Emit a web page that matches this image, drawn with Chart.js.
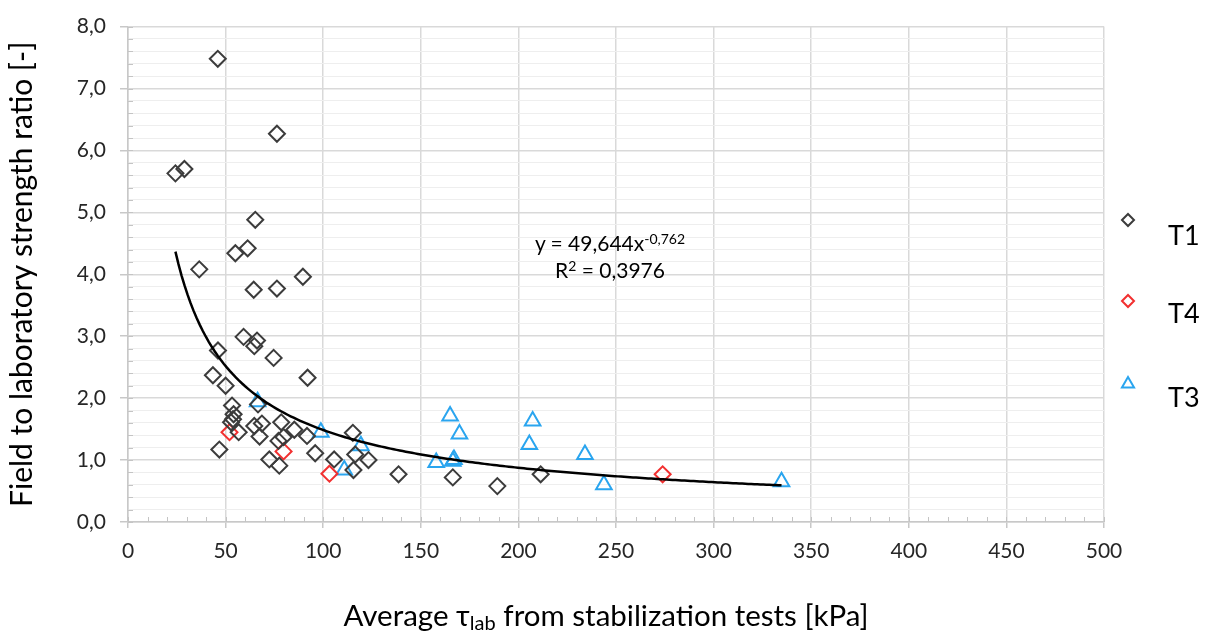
<!DOCTYPE html>
<html>
<head>
<meta charset="utf-8">
<script src="https://cdn.jsdelivr.net/npm/chart.js@4.4.1/dist/chart.umd.min.js"></script>
<style>
  html, body { margin: 0; padding: 0; background: #fff; }
  #wrap { position: relative; width: 1208px; height: 633px; }
  canvas { position: absolute; left: 0; top: 0; }
  .ovl { position: absolute; font-family: Lato, "Open Sans", sans-serif; color: #000; white-space: nowrap; }
  #eq { left: 510px; width: 200px; top: 229px; text-align: center; font-size: 21px; line-height: 27px; }
  #eq sup { font-size: 14px; vertical-align: 7px; line-height: 0; }
  #xtitle { left: 306px; width: 600px; top: 597px; text-align: center; font-size: 29.5px; line-height: 36px; }
  #xtitle sub { font-size: 20px; vertical-align: -4px; line-height: 0; }
</style>
</head>
<body>
<div id="wrap">
  <canvas id="c" width="1208" height="633"></canvas>
  <div class="ovl" id="eq">y = 49,644x<sup>-0,762</sup><br>R<sup>2</sup> = 0,3976</div>
  <div class="ovl" id="xtitle">Average τ<sub>lab</sub> from stabilization tests [kPa]</div>
</div>
<script>
// ---- Data ----
const seriesNames = ['T1', 'T4', 'T3'];

const t1X = [46.0, 76.3, 24.3, 28.9, 65.2, 55.0, 61.3, 36.5, 89.6, 64.4, 76.3, 59.2, 66.1, 64.7, 46.1, 74.6,
             43.5, 92.0, 50.0, 66.6, 53.3, 54.1, 53.8, 52.8, 64.7, 68.6, 78.5, 85.2, 56.7, 67.4, 77.1, 79.7,
             91.7, 46.8, 95.9, 72.4, 77.5, 105.6, 115.2, 116.4, 115.5, 123.2, 138.6, 166.4, 189.2, 211.4];
const t1Y = [7.48, 6.27, 5.63, 5.70, 4.88, 4.34, 4.42, 4.08, 3.96, 3.75, 3.77, 2.99, 2.93, 2.84, 2.77, 2.65,
             2.37, 2.33, 2.20, 1.90, 1.88, 1.74, 1.66, 1.61, 1.55, 1.59, 1.61, 1.49, 1.45, 1.38, 1.31, 1.37,
             1.39, 1.17, 1.11, 1.01, 0.91, 1.01, 1.44, 1.09, 0.84, 1.00, 0.77, 0.72, 0.58, 0.77];

const t4X = [52.0, 79.7, 103.2, 273.9];
const t4Y = [1.45, 1.14, 0.78, 0.77];

const t3X = [66.4, 98.8, 119.3, 110.8, 165.0, 169.8, 157.9, 166.4, 167.0, 207.3, 205.6, 234.1, 243.8, 334.8];
const t3Y = [1.94, 1.45, 1.23, 0.84, 1.71, 1.42, 0.96, 0.98, 1.01, 1.63, 1.25, 1.09, 0.60, 0.65];

// Power trendline shown on the chart: y = 49,644 x^-0,762
const trendA = 49.644;
const trendB = -0.762;

const xTicks = [0, 50, 100, 150, 200, 250, 300, 350, 400, 450, 500];
const yTicks = [0, 1, 2, 3, 4, 5, 6, 7, 8];

// ---- Build datasets ----
const toPts = (xs, ys) => xs.map((x, i) => ({ x, y: ys[i] }));
const allX = t1X.concat(t4X, t3X);
const xMin = Math.min(...allX), xMax = Math.max(...allX);
const trendPts = [];
for (let i = 0; i <= 200; i++) {
  const x = xMin + (xMax - xMin) * i / 200;
  trendPts.push({ x, y: trendA * Math.pow(x, trendB) });
}

const colT1 = '#3c3c3c', colT4 = '#f23030', colT3 = '#2aa5ef';
const FONT = 'Lato, "Open Sans", sans-serif';

const minorTicks = {
  id: 'minorTicks',
  beforeDatasetsDraw(chart) {
    const { ctx, chartArea: a, scales: { x, y } } = chart;
    ctx.save();
    ctx.strokeStyle = '#c4c4c4';
    ctx.lineWidth = 1;
    ctx.beginPath();
    for (let v = xTicks[0]; v <= xTicks[xTicks.length - 1] + 1e-9; v += 10) {
      const px = Math.round(x.getPixelForValue(v)) + 0.5;
      ctx.moveTo(px, a.bottom);
      ctx.lineTo(px, a.bottom - 5);
    }
    for (let k = 0; k <= 40; k++) {
      const v = k * 0.2;
      const py = Math.round(y.getPixelForValue(v)) + 0.5;
      ctx.moveTo(a.left, py);
      ctx.lineTo(a.left + 5, py);
    }
    ctx.stroke();
    ctx.restore();
  }
};

const customLegend = {
  id: 'customLegend',
  afterDraw(chart) {
    const { ctx } = chart;
    const items = [
      { ds: 0, mx: 1128, my: 220, tx: 1168, ty: 236 },
      { ds: 1, mx: 1128, my: 301, tx: 1168, ty: 314 },
      { ds: 2, mx: 1128, my: 384, tx: 1168, ty: 398 }
    ];
    ctx.save();
    items.forEach(it => {
      const d = chart.data.datasets[it.ds];
      ctx.strokeStyle = d.borderColor;
      ctx.fillStyle = 'rgba(0,0,0,0)';
      ctx.lineWidth = 2;
      Chart.helpers.drawPoint(ctx, { pointStyle: d.pointStyle, radius: d.pointStyle === 'triangle' ? 7 : 6, borderWidth: 2 }, it.mx, it.my);
      ctx.fillStyle = '#000';
      ctx.font = '27px ' + FONT;
      ctx.textAlign = 'left';
      ctx.textBaseline = 'middle';
      ctx.fillText(d.label, it.tx, it.ty);
    });
    ctx.restore();
  }
};

new Chart(document.getElementById('c'), {
  type: 'scatter',
  data: {
    datasets: [
      { label: seriesNames[0], data: toPts(t1X, t1Y), pointStyle: 'rectRot', pointRadius: 8, pointHoverRadius: 8,
        borderColor: colT1, backgroundColor: 'rgba(0,0,0,0)', pointBorderWidth: 2, order: 2 },
      { label: seriesNames[1], data: toPts(t4X, t4Y), pointStyle: 'rectRot', pointRadius: 8, pointHoverRadius: 8,
        borderColor: colT4, backgroundColor: 'rgba(0,0,0,0)', pointBorderWidth: 2, order: 2 },
      { label: seriesNames[2], data: toPts(t3X, t3Y), pointStyle: 'triangle', pointRadius: 9, pointHoverRadius: 9,
        borderColor: colT3, backgroundColor: 'rgba(0,0,0,0)', pointBorderWidth: 2, order: 2 },
      { label: 'trend', data: trendPts, showLine: true, pointRadius: 0, borderColor: '#000', borderWidth: 2.5,
        fill: false, tension: 0, order: 1 }
    ]
  },
  options: {
    responsive: false,
    animation: false,
    devicePixelRatio: 1,
    layout: { padding: { left: 0, right: 104, top: 22, bottom: 0 } },
    plugins: { legend: { display: false }, tooltip: { enabled: false } },
    scales: {
      x: {
        type: 'linear', min: 0, max: 500,
        afterFit: s => { s.height = 111; },
        afterBuildTicks: s => { s.ticks = xTicks.map(v => ({ value: v })); },
        ticks: { font: { family: FONT, size: 21 }, color: '#262626', padding: 11, autoSkip: false, maxRotation: 0 },
        grid: { color: '#d9d9d9', lineWidth: 1.5, tickLength: 6, tickColor: '#c8c8c8' },
        border: { color: '#c8c8c8', width: 1.5 }
      },
      y: {
        type: 'linear', min: 0, max: 8,
        afterFit: s => { s.width = 128; },
        afterBuildTicks: s => {
          const t = [];
          for (let k = 0; k <= 40; k++) t.push({ value: k * 0.2 });
          s.ticks = t;
        },
        ticks: {
          font: { family: FONT, size: 21 }, color: '#262626', padding: 14, autoSkip: false,
          callback: v => {
            const r = Math.round(v);
            return (Math.abs(v - r) < 1e-6 && yTicks.includes(r)) ? r.toFixed(1).replace('.', ',') : '';
          }
        },
        grid: {
          color: c => (Math.abs(c.tick.value - Math.round(c.tick.value)) < 1e-6) ? '#d9d9d9' : '#eeeeee',
          lineWidth: c => (Math.abs(c.tick.value - Math.round(c.tick.value)) < 1e-6) ? 1.5 : 1,
          tickLength: 8,
          tickColor: c => (Math.abs(c.tick.value - Math.round(c.tick.value)) < 1e-6) ? '#c8c8c8' : 'rgba(0,0,0,0)'
        },
        border: { color: '#c8c8c8', width: 1.5 },
        title: {
          display: true, text: 'Field to laboratory strength ratio [-]',
          font: { family: FONT, size: 30 }, color: '#000', padding: { top: 4, bottom: 0 }
        }
      }
    }
  },
  plugins: [minorTicks, customLegend]
});
</script>
</body>
</html>
